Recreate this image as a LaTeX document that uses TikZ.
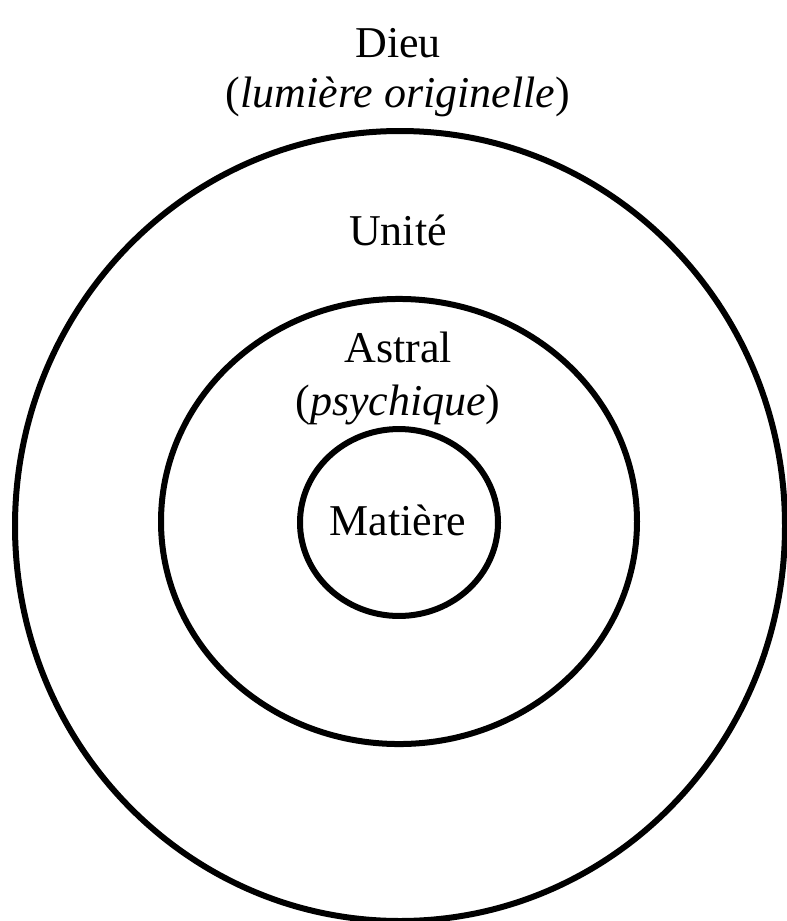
\documentclass[tikz,border=0pt]{standalone}
\usepackage{fontspec}
\setmainfont{Liberation Serif}
\usepackage{tikz}

\begin{document}
\begin{tikzpicture}[
  x=0.75pt,y=-0.75pt,
  ring/.style={draw,line width=4.5pt},
  lbl/.style={font=\fontsize{33}{38}\selectfont,inner sep=0pt,anchor=base}
]
\useasboundingbox (0,0) rectangle (787,921);
% rings
\draw[ring] (400,526) ellipse [x radius=288.75pt,y radius=296.25pt];
\draw[ring] (399,521.5) ellipse [x radius=178.5pt,y radius=166.9pt];
\draw[ring] (399,522.5) ellipse [x radius=74.25pt,y radius=70.1pt];
% labels
\node[lbl] (dieu) at (398,57) {Dieu};
\node[lbl] (lumiere) at (398,107) {(\textit{lumière originelle})};
\node[lbl] (unite) at (398,245) {Unité};
\node[lbl] (astral) at (398,362) {Astral};
\node[lbl] (psy) at (398,415) {(\textit{psychique})};
\node[lbl] (matiere) at (398,535) {Matière};
\end{tikzpicture}
\end{document}
